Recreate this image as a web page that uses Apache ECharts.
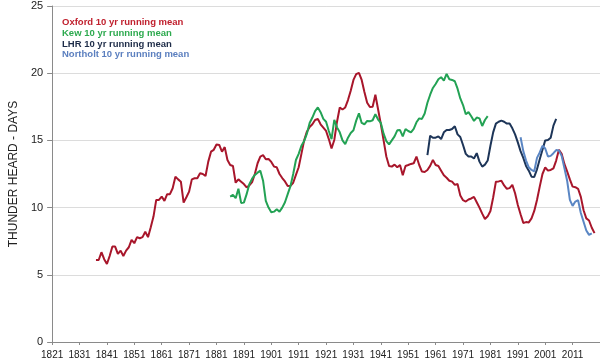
<!DOCTYPE html>
<html>
<head>
<meta charset="utf-8">
<script src="https://cdn.jsdelivr.net/npm/echarts@6/dist/echarts.min.js"></script>
<style>
html,body{margin:0;padding:0;background:#fff;}
#chart{width:600px;height:361px;}
</style>
</head>
<body>
<div id="chart"></div>
<script>
const xTicks = [1821,1831,1841,1851,1861,1871,1881,1891,1901,1911,1921,1931,1941,1951,1961,1971,1981,1991,2001,2011];
const yTicks = [0,5,10,15,20,25];

const oxfordStart = 1837;
const oxford = [6.1,6.1,6.68,6.16,5.8,6.4,7.1,7.1,6.56,6.8,6.4,6.8,7.05,7.6,7.35,7.8,7.72,7.8,8.2,7.8,
  8.54,9.33,10.57,10.57,10.82,10.5,11.0,11.0,11.44,12.3,12.1,11.93,10.37,10.77,11.19,12.1,12.18,12.18,12.55,12.5,
  12.35,13.42,14.16,14.3,14.7,14.66,14.16,14.5,13.54,13.17,
  13.1,11.85,12.1,11.93,11.75,11.5,11.65,11.9,12.5,13.3,13.8,13.9,13.6,13.62,13.4,13.05,13.0,12.5,12.2,11.95,
  11.6,11.62,11.85,12.43,13.0,14.0,15.0,15.65,16.0,16.2,16.52,16.6,16.2,15.95,15.7,15.1,14.4,15.03,16.39,17.45,
  17.3,17.45,18.0,18.7,19.5,19.93,20.03,19.5,18.6,17.8,17.48,17.5,18.4,17.3,16.2,15.0,13.8,13.1,13.05,13.2,
  13.0,13.17,12.4,13.1,13.17,13.25,13.3,
  13.8,13.17,12.68,12.65,12.8,13.1,13.55,13.17,13.1,12.75,12.4,12.22,12.0,11.93,11.69,11.75,10.9,10.55,10.45,10.6,
  10.68,10.8,10.4,10.0,9.55,9.15,9.35,9.75,10.75,11.93,11.95,12.0,11.65,11.4,11.45,11.69,11.07,10.2,9.5,8.86,
  8.92,8.9,9.2,9.75,10.57,11.56,12.5,13.0,12.75,12.8,12.92,13.5,14.3,14.0,13.25,12.7,12.1,11.56,11.52,11.4,
  10.8,9.8,9.2,9.04,8.5,8.1];

const kewStart = 1886;
const kew = [10.82,10.94,10.7,11.4,10.35,10.37,11.0,11.75,12.15,12.43,12.6,12.75,12.0,10.5,10.0,9.65,9.7,9.88,9.7,10.0,
  10.4,11.0,11.6,12.5,13.54,14.0,14.6,14.95,15.5,16.3,16.7,17.18,17.45,17.1,16.6,16.39,15.7,15.1,16.52,15.97,
  15.6,15.0,14.73,15.2,15.55,15.75,16.47,17.01,16.3,16.2,16.45,16.42,16.5,16.95,16.55,16.3,15.5,14.95,14.7,15.0,
  15.3,15.75,15.77,15.3,15.85,15.7,15.6,15.85,16.35,16.64,16.6,17.0,17.8,18.4,18.9,19.2,19.55,19.7,19.45,19.95,
  19.55,19.5,19.4,18.85,18.12,17.63,16.95,17.1,16.8,16.45,16.7,16.64,16.07,16.52,16.8];

const lhrStart = 1958;
const lhr = [13.9,15.35,15.2,15.2,15.3,15.1,15.6,15.77,15.77,15.85,16.05,15.45,15.25,14.66,14.0,13.8,13.8,13.65,14.05,13.42,
  13.05,13.2,13.5,14.6,15.6,16.25,16.39,16.47,16.39,16.25,16.25,15.9,15.45,14.85,14.2,13.7,13.1,12.75,12.3,12.28,
  12.85,13.6,14.3,15.0,15.03,15.2,16.1,16.6];

const northoltStart = 1992;
const northolt = [15.23,14.2,13.5,13.0,12.8,12.7,13.7,14.1,14.6,14.4,13.8,13.85,14.05,14.28,14.25,13.85,12.95,12.0,10.57,10.13,
  10.45,10.55,9.6,8.95,8.3,7.97,8.09];

const seriesNames = ['Oxford 10 yr running mean','Kew 10 yr running mean','LHR 10 yr running mean','Northolt 10 yr running mean'];
const lineColors = ['#a8162b','#23a254','#1d3558','#5a86c4'];
const textColors = ['#c0202e','#2eaa4f','#1e2c48','#5b7fbf'];

function pairs(start, vals){ return vals.map((v,i)=>[start+i, v]); }
const allData = [pairs(oxfordStart,oxford), pairs(kewStart,kew), pairs(lhrStart,lhr), pairs(northoltStart,northolt)];

const chart = echarts.init(document.getElementById('chart'), null, {renderer:'canvas'});
chart.setOption({
  animation:false,
  backgroundColor:'#fff',
  grid:{left:36, right:0, top:6, bottom:19, containLabel:false},
  legend:{
    orient:'vertical', left:52, top:12, icon:'none', itemWidth:0, itemHeight:11.4, itemGap:0,
    selectedMode:false,
    textStyle:{fontFamily:'Liberation Sans, Arial, sans-serif', fontWeight:'bold', fontSize:9.5},
    data: seriesNames.map((n,i)=>({name:n, textStyle:{color:textColors[i]}}))
  },
  xAxis:{
    type:'value', min:1821, max:2021, interval:10,
    axisLine:{show:true, lineStyle:{color:'#8a8a8a', width:1}},
    axisTick:{show:true, length:3, lineStyle:{color:'#8a8a8a'}},
    splitLine:{show:false},
    axisLabel:{
      color:'#222', fontSize:10, margin:8,
      fontFamily:'Liberation Sans Narrow, Liberation Sans, Arial, sans-serif',
      showMaxLabel:false,
      formatter:(v)=> xTicks.indexOf(v) >= 0 ? String(v) : ''
    }
  },
  yAxis:{
    type:'value', min:yTicks[0], max:yTicks[yTicks.length-1], interval:5,
    name:'THUNDER HEARD - DAYS', nameLocation:'middle', nameGap:29, nameRotate:90,
    nameTextStyle:{color:'#222', fontSize:12, fontFamily:'Liberation Sans, Arial, sans-serif'},
    axisLine:{show:true, lineStyle:{color:'#8a8a8a', width:1}},
    axisTick:{show:true, length:5, lineStyle:{color:'#8a8a8a'}},
    splitLine:{show:true, lineStyle:{color:'#dcdcdc', width:1}},
    axisLabel:{color:'#222', fontSize:11, margin:9, fontFamily:'Liberation Sans, Arial, sans-serif'}
  },
  series: allData.map((d,i)=>({
    name:seriesNames[i], type:'line', data:d, showSymbol:false, symbol:'none',
    lineStyle:{color:lineColors[i], width:2}, itemStyle:{color:lineColors[i]}, z:2+i
  }))
});
</script>
</body>
</html>
